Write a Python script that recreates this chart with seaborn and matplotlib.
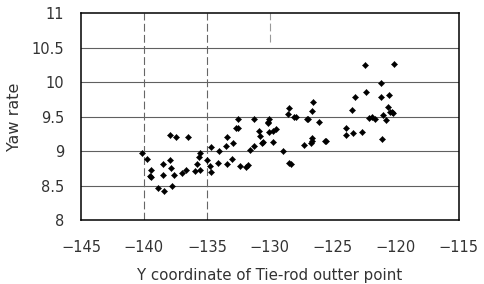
import numpy as np
import pandas as pd
import matplotlib
matplotlib.use('Agg')
import matplotlib.pyplot as plt
import seaborn as sns

# Datos
y_coord = [-140.16, -139.74, -139.47, -139.56, -139.48, -138.87, -138.41, -137.80, -137.91, -137.48,
           -136.53, -138.47, -137.90, -137.83, -138.45, -137.64, -136.98, -136.65, -135.98, -135.79,
           -135.62, -135.56, -135.56, -135.02, -134.68, -134.05, -134.74, -134.67, -133.41, -133.45,
           -132.95, -134.15, -133.40, -133.00, -132.38, -131.88, -131.77, -132.50, -132.71, -132.52,
           -131.29, -131.56, -131.29, -130.87, -130.81, -130.63, -130.52, -130.10, -130.13, -130.18,
           -130.06, -129.79, -129.52, -129.76, -128.98, -128.48, -128.59, -128.10, -127.95, -128.48,
           -128.34, -127.28, -127.06, -126.94, -126.55, -126.64, -126.13, -126.63, -126.67, -126.71,
           -125.63, -125.56, -123.21, -122.38, -121.15, -123.45, -123.95, -123.98, -123.41, -122.70,
           -122.13, -121.92, -121.67, -121.13, -122.46, -120.16, -121.17, -120.52, -120.65, -120.48,
           -120.34, -120.21, -121.01, -120.75]
yaw_rate = [8.975, 8.89, 8.72, 8.64, 8.62, 8.47, 8.42, 8.49, 9.23, 9.21,
            9.20, 8.81, 8.87, 8.76, 8.66, 8.66, 8.68, 8.73, 8.71, 8.81,
            8.92, 8.97, 8.73, 8.87, 9.06, 9.00, 8.79, 8.70, 9.20, 9.07,
            9.12, 8.83, 8.81, 8.89, 8.79, 8.77, 8.80, 9.47, 9.33, 9.33,
            9.47, 9.01, 9.08, 9.29, 9.22, 9.11, 9.13, 9.47, 9.42, 9.41,
            9.28, 9.29, 9.32, 9.13, 9.00, 9.62, 9.54, 9.50, 9.50, 8.83,
            8.82, 9.09, 9.46, 9.47, 9.71, 9.58, 9.42, 9.19, 9.15, 9.12,
            9.15, 9.14, 9.78, 9.86, 9.79, 9.59, 9.34, 9.24, 9.26, 9.28,
            9.48, 9.50, 9.47, 9.18, 10.25, 10.26, 9.99, 9.81, 9.64, 9.57,
            9.56, 9.55, 9.52, 9.45]

x_ticks = [-145, -140, -135, -130, -125, -120, -115]
y_ticks = [8, 8.5, 9, 9.5, 10, 10.5, 11]
y_ticklabels = ['8', '8.5', '9', '9.5', '10', '10.5', '11']

df = pd.DataFrame({'y_coord': y_coord, 'yaw': yaw_rate})

sns.set_style('white')
plt.rcParams['font.family'] = ['DejaVu Sans']

fig = plt.figure(figsize=(4.85, 2.84), dpi=100)
ax = fig.add_axes([0.167, 0.225, 0.779, 0.729])

# lineas guia
for yv in y_ticks[1:-1]:
    ax.axhline(yv, color='#606060', lw=0.8, zorder=1)
ax.axvline(-140, color='#666666', lw=0.8, ls=(0, (7, 3)), zorder=1)
ax.axvline(-135, color='#666666', lw=0.8, ls=(0, (7, 3)), zorder=1)
ax.axvline(-130, color='#999999', lw=0.8, ls=(0, (7, 3)), ymin=0.86, zorder=1)

sns.scatterplot(data=df, x='y_coord', y='yaw', ax=ax, color='black',
                marker='D', s=10, edgecolor='black', linewidth=0.3, zorder=3)

ax.set_xlim(-145, -115)
ax.set_ylim(8, 11)
ax.set_xticks(x_ticks)
ax.set_yticks(y_ticks)
ax.set_yticklabels(y_ticklabels)
ax.tick_params(length=0, labelsize=10.5, colors='#333333')
ax.tick_params(axis='y', pad=12)
ax.tick_params(axis='x', pad=14)
for s in ax.spines.values():
    s.set_color('black')
    s.set_linewidth(1.1)

ax.set_xlabel('Y coordinate of Tie-rod outter point', fontsize=10.8, color='#333333', labelpad=10)
ax.set_ylabel('Yaw rate', fontsize=11.5, color='#333333', labelpad=7)

fig.savefig('out.png', dpi=100)
